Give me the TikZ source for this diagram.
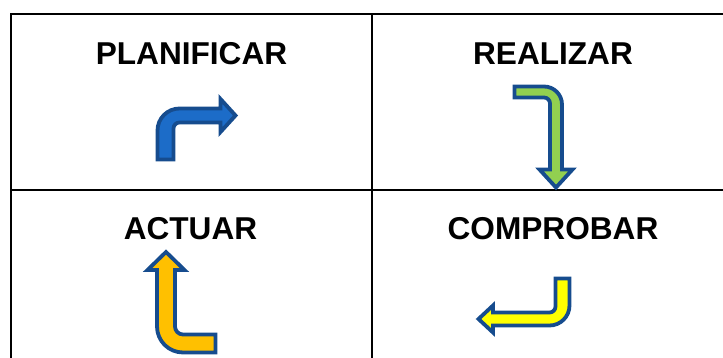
\documentclass[tikz,border=0pt]{standalone}
\usepackage{fontspec}
\setmainfont{Liberation Sans}
\definecolor{outl}{RGB}{22,76,142}
\definecolor{bfill}{RGB}{28,108,200}
\definecolor{gfill}{RGB}{146,208,80}
\definecolor{ofill}{RGB}{255,192,0}
\definecolor{yfill}{RGB}{255,255,0}
\tikzset{
  grid line/.style={line width=2pt,black},
  title/.style={anchor=base,font=\fontsize{31.6}{36}\selectfont\bfseries,inner sep=0pt},
  bentarrow/.style={draw=outl,line width=3.8pt,line join=miter}
}
\begin{document}
\begin{tikzpicture}[x=1pt,y=1pt]
\useasboundingbox (0,0) rectangle (723,-358);
% table
\coordinate (tl) at (11,-14);
\coordinate (tr) at (723,-14);
\coordinate (bl) at (11,-358);
\coordinate (tm) at (372,-14);
\coordinate (bm) at (372,-358);
\coordinate (ml) at (11,-190);
\coordinate (mr) at (723,-190);
\draw[grid line] (tr) -- (tl) -- (bl);
\draw[grid line] (tm) -- (bm);
\draw[grid line] (ml) -- (mr);
% titles
\node[title] (plan) at (191.5,-65) {PLANIFICAR};
\node[title] (real) at (553,-65) {REALIZAR};
\node[title] (act) at (190.5,-240) {ACTUAR};
\node[title] (comp) at (553,-240) {COMPROBAR};
% blue arrow
\draw[bentarrow,fill=bfill] (157.5,-159.5) -- (157.5,-130.5)
  arc[start angle=180,end angle=90,radius=22pt] -- (220.5,-108.5) -- (220.5,-99)
  -- (235.5,-115.5) -- (220.5,-132) -- (220.5,-122.5) -- (179.5,-122.5)
  arc[start angle=90,end angle=180,radius=6pt] -- (173.5,-159.5) -- cycle;
% green arrow
\draw[bentarrow,fill=gfill] (514.5,-86.5) -- (544,-86.5)
  arc[start angle=90,end angle=0,radius=18pt] -- (562,-169.5) -- (572.5,-169.5)
  -- (556,-187.5) -- (539.5,-169.5) -- (550,-169.5) -- (550,-103.5)
  arc[start angle=0,end angle=90,radius=6pt] -- (514.5,-97.5) -- cycle;
% orange arrow
\draw[bentarrow,fill=ofill] (215.5,-334.5) -- (183,-334.5)
  arc[start angle=270,end angle=180,radius=8pt] -- (175,-270) -- (184.5,-270)
  -- (166,-252) -- (147.5,-270) -- (157,-270) -- (157,-326.5)
  arc[start angle=180,end angle=270,radius=26pt] -- (215.5,-352.5) -- cycle;
% yellow arrow
\draw[bentarrow,fill=yfill] (555.5,-278.5) -- (569.5,-278.5) -- (569.5,-305.5)
  arc[start angle=0,end angle=-90,radius=20pt] -- (493,-325.5) -- (493,-332.5)
  -- (478.5,-319) -- (493,-305.5) -- (493,-312.5) -- (549.5,-312.5)
  arc[start angle=-90,end angle=0,radius=6pt] -- cycle;
\end{tikzpicture}
\end{document}
